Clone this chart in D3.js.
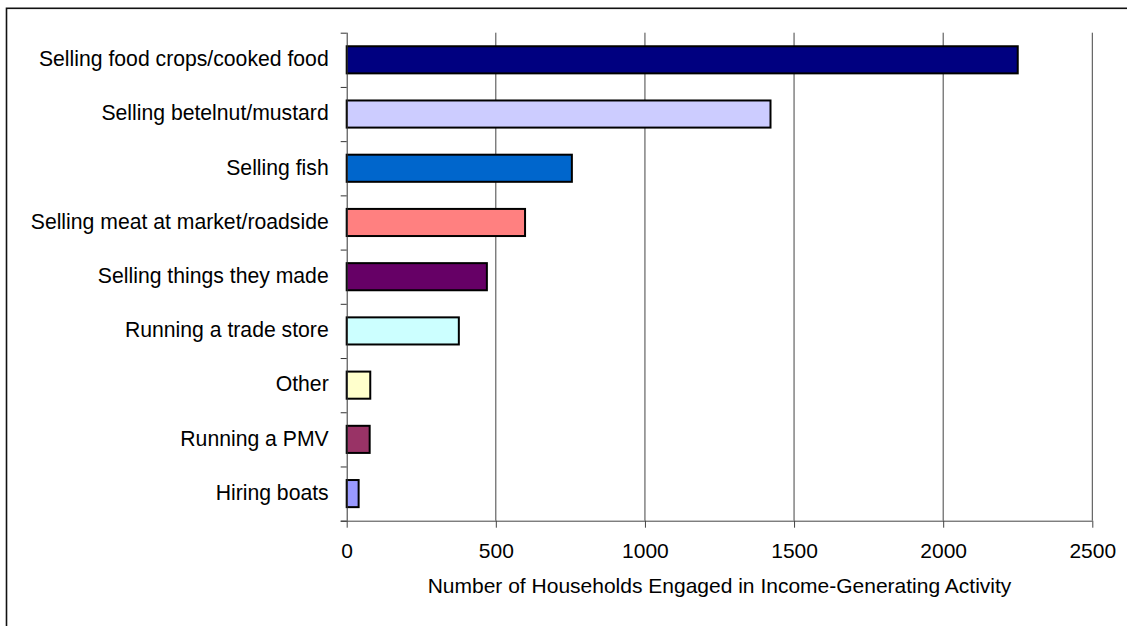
<!DOCTYPE html>
<html>
<head>
<meta charset="utf-8">
<script src="https://cdn.jsdelivr.net/npm/d3@7"></script>
<style>
  body { margin: 0; background: #fff; }
  text { font-family: "Liberation Sans", Arial, sans-serif; fill: #000; }
</style>
</head>
<body>
<div id="chart"></div>
<script>
// data
const activities = ["Selling food crops/cooked food", "Selling betelnut/mustard", "Selling fish",
  "Selling meat at market/roadside", "Selling things they made", "Running a trade store",
  "Other", "Running a PMV", "Hiring boats"];
const households = [2250, 1421, 755, 598, 470, 376, 79, 77, 40];
const barColors = ["#000080", "#ccccff", "#0066cc", "#ff8080", "#660066", "#ccffff", "#ffffcc", "#993366", "#9999ff"];
const xTicks = [0, 500, 1000, 1500, 2000, 2500];
const xTitle = "Number of Households Engaged in Income-Generating Activity";

let margin = {top: 32.7, left: 346.7},
    width = 745.6,
    height = 488;

let svg = d3.select("#chart").append("svg")
    .attr("width", 1127)
    .attr("height", 626);

// outer frame (runs off the right/bottom edge like the original)
svg.append("rect")
    .attr("x", 6.5).attr("y", 8.3)
    .attr("width", 1200).attr("height", 700)
    .attr("fill", "none")
    .attr("stroke", "#111")
    .attr("stroke-width", 1.6);

let g = svg.append("g")
    .attr("transform", "translate(" + margin.left + "," + margin.top + ")");

let x = d3.scaleLinear().domain([0, 2500]).range([0, width]);
let y = d3.scaleBand().domain(activities).range([0, height])
    .paddingInner(0.5).paddingOuter(0.25);
let yEdges = d3.scaleLinear().domain([0, activities.length]).range([0, height]);

// vertical gridlines
g.selectAll(".grid")
  .data(xTicks.filter(d => d > 0))
  .enter().append("line")
    .attr("x1", d => x(d)).attr("x2", d => x(d))
    .attr("y1", 0).attr("y2", height)
    .attr("stroke", "#444")
    .attr("stroke-width", 1);

// bars
g.selectAll(".bar")
  .data(activities)
  .enter().append("rect")
    .attr("x", 0)
    .attr("y", d => y(d))
    .attr("width", (d, i) => x(households[i]))
    .attr("height", y.bandwidth())
    .attr("fill", (d, i) => barColors[i])
    .attr("stroke", "#000")
    .attr("stroke-width", 2);

// x axis
let xAxis = g.append("g")
    .attr("transform", "translate(0," + height + ")")
    .call(d3.axisBottom(x).tickValues(xTicks).tickFormat(d3.format("d")).tickSize(7).tickPadding(15));
xAxis.select(".domain").attr("stroke", "#444").attr("d", "M-6,0.5H" + width);
xAxis.selectAll(".tick line").attr("stroke", "#444");
xAxis.selectAll(".tick text")
    .style("font-size", "21px")
    .attr("font-family", null);

// y axis: ticks at band edges, labels at band centres
let yAxis = g.append("g")
    .call(d3.axisLeft(yEdges).tickValues(d3.range(activities.length + 1)).tickSize(6).tickFormat(""));
yAxis.select(".domain").attr("stroke", "#333").attr("d", "M0.5,0V" + height);
yAxis.selectAll(".tick line").attr("stroke", "#333");

g.selectAll(".cat")
  .data(activities)
  .enter().append("text")
    .attr("x", -18)
    .attr("y", d => y(d) + y.bandwidth() / 2)
    .attr("dy", "0.3em")
    .attr("text-anchor", "end")
    .style("font-size", "21.2px")
    .text(d => d);

// axis title
g.append("text")
    .attr("x", width / 2)
    .attr("y", height + 72.5)
    .attr("text-anchor", "middle")
    .style("font-size", "21px")
    .text(xTitle);
</script>
</body>
</html>
